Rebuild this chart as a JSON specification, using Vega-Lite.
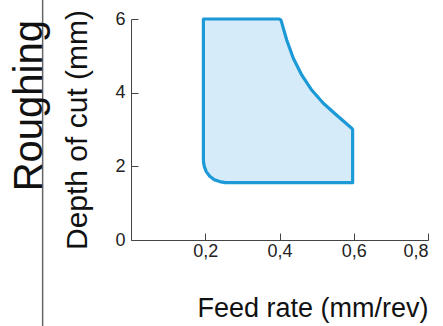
{
  "$schema": "https://vega.github.io/schema/vega-lite/v6.json",
  "width": 297,
  "height": 221,
  "autosize": {"type": "none"},
  "padding": {"left": 131, "top": 19, "right": 15, "bottom": 86},
  "background": "white",
  "config": {"view": {"stroke": null}, "font": "Liberation Sans"},
  "title": {"text": "Roughing", "orient": "left", "anchor": "end", "dx": -21, "fontSize": 40, "font": "Liberation Sans", "fontWeight": "normal", "color": "#111111", "offset": -8, "zindex": -1},
  "datasets": {
    "fillshape": [
      {"feed": 0.195, "top": 6, "bottom": 2.15},
      {"feed": 0.1973, "top": 6, "bottom": 2.0},
      {"feed": 0.2027, "top": 6, "bottom": 1.856},
      {"feed": 0.2121, "top": 6, "bottom": 1.731},
      {"feed": 0.2244, "top": 6, "bottom": 1.637},
      {"feed": 0.2387, "top": 6, "bottom": 1.586},
      {"feed": 0.254, "top": 6, "bottom": 1.556},
      {"feed": 0.3995, "top": 6, "bottom": 1.556},
      {"feed": 0.404, "top": 5.97, "bottom": 1.556},
      {"feed": 0.4194, "top": 5.43, "bottom": 1.556},
      {"feed": 0.4372, "top": 4.933, "bottom": 1.556},
      {"feed": 0.4598, "top": 4.48, "bottom": 1.556},
      {"feed": 0.4867, "top": 4.072, "bottom": 1.556},
      {"feed": 0.518, "top": 3.711, "bottom": 1.556},
      {"feed": 0.5549, "top": 3.38, "bottom": 1.556},
      {"feed": 0.5945, "top": 3.033, "bottom": 1.556},
      {"feed": 0.597, "top": 3.0, "bottom": 1.556}
    ],
    "outline": [
      {"i": 1, "feed": 0.195, "depth": 2.15},
      {"i": 2, "feed": 0.195, "depth": 6},
      {"i": 3, "feed": 0.3995, "depth": 6},
      {"i": 4, "feed": 0.404, "depth": 5.97},
      {"i": 5, "feed": 0.4194, "depth": 5.43},
      {"i": 6, "feed": 0.4372, "depth": 4.933},
      {"i": 7, "feed": 0.4598, "depth": 4.48},
      {"i": 8, "feed": 0.4867, "depth": 4.072},
      {"i": 9, "feed": 0.518, "depth": 3.711},
      {"i": 10, "feed": 0.5549, "depth": 3.38},
      {"i": 11, "feed": 0.5945, "depth": 3.033},
      {"i": 12, "feed": 0.597, "depth": 3.0},
      {"i": 13, "feed": 0.597, "depth": 1.556},
      {"i": 14, "feed": 0.254, "depth": 1.556},
      {"i": 15, "feed": 0.2387, "depth": 1.586},
      {"i": 16, "feed": 0.2244, "depth": 1.637},
      {"i": 17, "feed": 0.2121, "depth": 1.731},
      {"i": 18, "feed": 0.2027, "depth": 1.856},
      {"i": 19, "feed": 0.1973, "depth": 2.0},
      {"i": 20, "feed": 0.195, "depth": 2.15}
    ]
  },
  "layer": [
    {
      "data": {"name": "fillshape"},
      "mark": {"type": "area", "color": "#d6ebf9", "opacity": 1},
      "encoding": {
        "x": {
          "field": "feed", "type": "quantitative",
          "scale": {"domain": [0, 0.8], "nice": false, "zero": false},
          "axis": {
            "title": "Feed rate (mm/rev)", "titleAnchor": "end", "titleFontSize": 27, "titleFontWeight": "normal", "titleColor": "#111111", "titlePadding": 35,
            "values": [0.2, 0.4, 0.6, 0.8], "labelExpr": "replace(format(datum.value, '.1f'), '.', ',')",
            "labelFontSize": 18, "labelColor": "#222222", "labelPadding": 9,
            "tickSize": -7, "tickColor": "#444444", "tickWidth": 1,
            "domainColor": "#444444", "domainWidth": 1, "grid": false
          }
        },
        "y": {
          "field": "top", "type": "quantitative",
          "scale": {"domain": [0, 6], "nice": false},
          "axis": {
            "title": "Depth of cut (mm)", "titleFontSize": 30, "titleFontWeight": "normal", "titleColor": "#111111", "titlePadding": 22,
            "values": [0, 2, 4, 6], "labelFontSize": 18, "labelColor": "#222222", "labelPadding": 13,
            "tickSize": -7, "tickColor": "#444444", "tickWidth": 1,
            "domainColor": "#444444", "domainWidth": 1, "grid": false
          }
        },
        "y2": {"field": "bottom"}
      }
    },
    {
      "data": {"name": "outline"},
      "mark": {"type": "line", "color": "#1b9ad7", "strokeWidth": 3.2, "strokeJoin": "round"},
      "encoding": {
        "x": {"field": "feed", "type": "quantitative"},
        "y": {"field": "depth", "type": "quantitative"},
        "order": {"field": "i", "type": "quantitative"}
      }
    },
    {
      "data": {"values": [{"panel": "mask"}]},
      "mark": {"type": "rect", "color": "white", "opacity": 1},
      "encoding": {
        "x": {"datum": -0.2358},
        "x2": {"datum": -0.185},
        "y": {"datum": 6.52},
        "y2": {"datum": -2.4}
      }
    },
    {
      "data": {"values": [{"sep": 1}]},
      "mark": {"type": "rule", "color": "#666666", "strokeWidth": 1.5},
      "encoding": {
        "x": {"datum": -0.238},
        "y": {"datum": 6.52},
        "y2": {"datum": -2.4}
      }
    }
  ]
}
